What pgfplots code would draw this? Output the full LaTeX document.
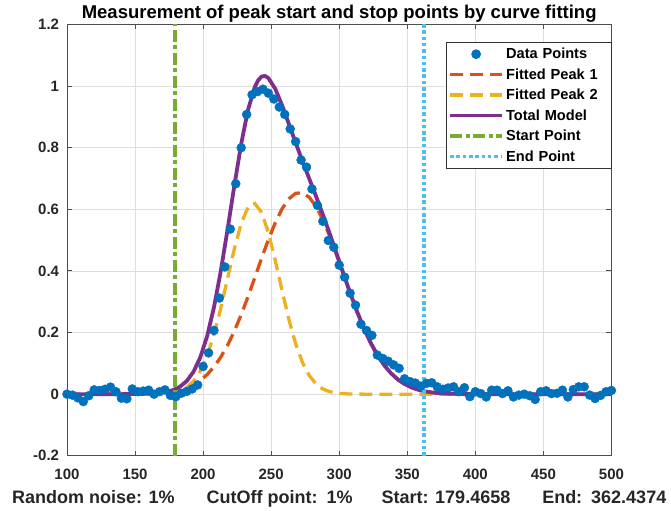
\documentclass[border=0pt]{standalone}
\usepackage{pgfplots}
\pgfplotsset{compat=1.18}
\usepackage{fontspec}
\setmainfont{Liberation Sans}
\definecolor{dblue}{RGB}{0,114,189}
\definecolor{dred}{RGB}{217,83,25}
\definecolor{dyellow}{RGB}{237,177,32}
\definecolor{dpurple}{RGB}{126,47,142}
\definecolor{dgreen}{RGB}{119,172,48}
\definecolor{dcyan}{RGB}{77,190,238}
\pgfplotsset{
  markleg/.style={legend image code/.code={\draw[mark repeat=2,mark phase=2,##1] plot coordinates {(0pt,0pt) (26pt,0pt) (52pt,0pt)};}},
  lineleg/.style={legend image code/.code={\draw[##1] (0pt,0pt) -- (52pt,0pt);}},
}
\begin{document}
\begin{tikzpicture}
\begin{axis}[
  at={(0,0)}, anchor=south west,
  scale only axis, width=544.7pt, height=431.5pt,
  xmin=100, xmax=500, ymin=-0.2, ymax=1.2,
  xtick={100,150,200,250,300,350,400,450,500},
  ytick={-0.2,0,0.2,0.4,0.6,0.8,1,1.2},
  grid=major, major grid style={color=black!13, line width=0.6pt},
  axis line style={color=black!70, line width=0.9pt},
  tick align=inside, tick pos=both, major tick length=5pt,
  tick style={color=black!70, line width=0.9pt},
  /pgf/number format/assume math mode=true,
  ticklabel style={font=\bfseries\fontsize{15}{18}\selectfont, text=black!85},
  xticklabel style={anchor=base, yshift=-23.3pt},
  yticklabel style={anchor=east, inner sep=0pt, xshift=-7.7pt},
  title={Measurement of peak start and stop points by curve fitting},
  title style={at={(0.5,1)}, anchor=base, yshift=-0.5pt, font=\bfseries\fontsize{18.5}{22}\selectfont},
  xlabel={Random noise: 1\%\hspace{32pt}CutOff point:\hspace{9pt}1\%\hspace{29pt}Start: 179.4658\hspace{32pt}End:\hspace{9pt}362.4374},
  xlabel style={at={(0.5,0)}, anchor=base, yshift=-47.5pt, font=\bfseries\fontsize{18}{21}\selectfont, text=black!85},
  legend style={at={(1,1)}, anchor=north east, yshift=-17.3pt, draw=black!80, line width=0.7pt, fill=white,
    font=\bfseries\fontsize{14.6}{17}\selectfont, inner xsep=2pt, inner ysep=4pt, row sep=4.4pt,
    cells={anchor=west},
    /tikz/every even column/.append style={text width=101pt, align=left}},
  lineleg,
]
% data points
\addplot[only marks, mark=*, mark size=4.5pt, color=dblue, mark options={fill=dblue, draw=dblue}, markleg]
coordinates {
(100,0.000) (104,-0.003) (108,-0.012) (112,-0.024) (116,-0.005) (120,0.014) (124,0.012) (128,0.016)
(132,0.023) (136,0.008) (140,-0.013) (144,-0.015) (148,0.017) (152,0.008) (156,0.010) (160,0.013)
(164,0.000) (168,0.008) (172,0.014) (176,-0.004) (180,-0.008) (184,0.003) (188,0.009) (192,0.017)
(196,0.030) (200,0.090) (204,0.134) (208,0.207) (212,0.312) (216,0.413) (220,0.536) (224,0.683)
(228,0.800) (232,0.908) (236,0.972) (240,0.982) (244,0.990) (248,0.977) (252,0.958) (256,0.932)
(260,0.908) (264,0.861) (268,0.820) (272,0.760) (276,0.737) (280,0.666) (284,0.613) (288,0.561)
(292,0.499) (296,0.477) (300,0.419) (304,0.380) (308,0.328) (312,0.289) (316,0.227) (320,0.207)
(324,0.191) (328,0.127) (332,0.116) (336,0.107) (340,0.095) (344,0.084) (348,0.050) (352,0.041)
(356,0.036) (360,0.026) (364,0.035) (368,0.037) (372,0.024) (376,0.016) (380,0.020) (384,0.024)
(388,0.008) (392,0.021) (396,-0.008) (400,0.008) (404,0.002) (408,-0.009) (412,0.013) (416,0.013)
(420,0.002) (424,0.011) (428,-0.009) (432,-0.003) (436,0.000) (440,-0.005) (444,-0.017) (448,0.008)
(452,0.011) (456,0.002) (460,0.003) (464,0.013) (468,-0.009) (472,0.015) (476,0.024) (480,0.024)
(484,-0.003) (488,-0.014) (492,-0.004) (496,0.008) (500,0.012)
};
\addlegendentry{Data Points}
% fitted peak 1
\addplot[color=dred, line width=3.3pt, dash pattern=on 13pt off 7pt] coordinates {
(100,0) (148,0.0003) (153,0.0006) (158,0.0011) (163,0.0018) (168,0.0031) (173,0.0052) (178,0.0084)
(183,0.0132) (188,0.0204) (193,0.0305) (198,0.0447) (203,0.0637) (208,0.0886) (213,0.1203) (218,0.1590)
(223,0.2051) (228,0.2580) (233,0.3164) (238,0.3784) (243,0.4412) (248,0.5017) (253,0.5563) (258,0.6015)
(263,0.6342) (268,0.6520) (273,0.6537) (278,0.6390) (283,0.6091) (288,0.5662) (293,0.5133) (298,0.4537)
(303,0.3910) (308,0.3286) (313,0.2693) (318,0.2152) (323,0.1677) (328,0.1274) (333,0.0944) (338,0.0682)
(343,0.0481) (348,0.0330) (353,0.0221) (358,0.0145) (363,0.0092) (368,0.0057) (373,0.0035) (378,0.0021)
(388,0.0007) (398,0.0002) (420,0) (500,0)
};
\addlegendentry{Fitted Peak 1}
% fitted peak 2
\addplot[color=dyellow, line width=3.3pt, dash pattern=on 13pt off 7pt] coordinates {
(100,0) (148,0.00001) (158,0.0001) (168,0.0009) (173,0.0021) (178,0.0050) (183,0.0109) (188,0.0223)
(193,0.0425) (198,0.0754) (203,0.1251) (208,0.1934) (213,0.2792) (218,0.3760) (223,0.4726) (228,0.5542)
(233,0.6064) (235.5,0.6180) (238,0.6191) (243,0.5899) (248,0.5243) (253,0.4349) (258,0.3366) (263,0.2431)
(268,0.1638) (273,0.1030) (278,0.0604) (283,0.0331) (288,0.0169) (293,0.0081) (298,0.0036) (303,0.0015)
(308,0.0006) (318,0.0001) (330,0) (500,0)
};
\addlegendentry{Fitted Peak 2}
% total model
\addplot[color=dpurple, line width=3.8pt, line join=round] coordinates {
(100,0) (140,0.0001) (148,0.0003) (153,0.0006) (158,0.0012) (163,0.0022) (168,0.0040) (173,0.0073)
(178,0.0134) (183,0.0242) (188,0.0427) (193,0.0730) (198,0.1201) (203,0.1888) (208,0.2820) (213,0.3995)
(218,0.5350) (223,0.6777) (228,0.8122) (233,0.9228) (238,0.9975) (240.5,1.0190) (243,1.0311) (245.5,1.0330)
(248,1.0260) (253,0.9912) (258,0.9381) (263,0.8773) (268,0.8158) (273,0.7567) (278,0.6994) (283,0.6422)
(288,0.5831) (293,0.5214) (298,0.4573) (303,0.3925) (308,0.3292) (313,0.2695) (318,0.2152) (323,0.1677)
(328,0.1274) (333,0.0944) (338,0.0682) (343,0.0481) (348,0.0330) (353,0.0221) (358,0.0145) (363,0.0092)
(368,0.0057) (373,0.0035) (378,0.0021) (388,0.0007) (398,0.0002) (420,0) (500,0)
};
\addlegendentry{Total Model}
% start point
\addplot[color=dgreen, line width=4pt, dash pattern=on 12pt off 3.5pt on 4pt off 3.5pt] coordinates {(179.4658,-0.2) (179.4658,1.2)};
\addlegendentry{Start Point}
% end point
\addplot[color=dcyan, line width=3.5pt, dash pattern=on 3.5pt off 2.8pt] coordinates {(362.4374,-0.2) (362.4374,1.2)};
\addlegendentry{End Point}
\end{axis}
\pgfresetboundingbox
\useasboundingbox (-67pt,-55pt) rectangle (604.3pt,456pt);
\end{tikzpicture}
\end{document}
